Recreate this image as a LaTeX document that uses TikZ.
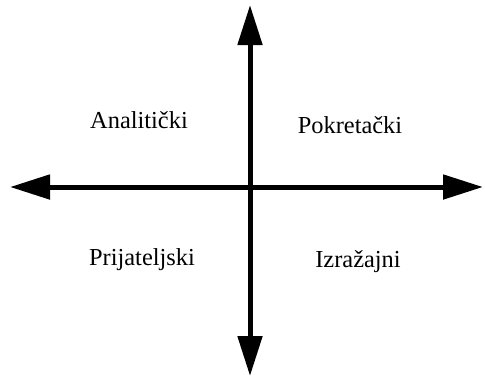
\documentclass[tikz,border=0pt]{standalone}
\usepackage{fontspec}
\setmainfont{Liberation Serif}
\usepackage{tikz}
\usetikzlibrary{arrows.meta, positioning}

\begin{document}
\begin{tikzpicture}[
    x=0.5pt, y=-0.5pt,
    axis/.style={line width=2.5pt, black, {Triangle[length=20pt, width=12pt]}-{Triangle[length=20pt, width=12pt]}},
    quad/.style={font=\fontsize{12.2pt}{14pt}\selectfont, anchor=base, inner sep=0pt}
  ]
    \useasboundingbox (0,0) rectangle (485,377);

    % Ends of the axes
    \coordinate (top) at (250,5);
    \coordinate (bottom) at (250,376);
    \coordinate (left) at (10,187);
    \coordinate (right) at (483,187);

    % Axes
    \draw[axis] (left) -- (right);
    \draw[axis] (bottom) -- (top);

    % Quadrants
    \node[quad] (anal) at (139,128) {Analitički};
    \node[quad] (pokr) at (350,133) {Pokretački};
    \node[quad] (prij) at (142,265) {Prijateljski};
    \node[quad] (izra) at (358,267) {Izražajni};
  \end{tikzpicture}
\end{document}
